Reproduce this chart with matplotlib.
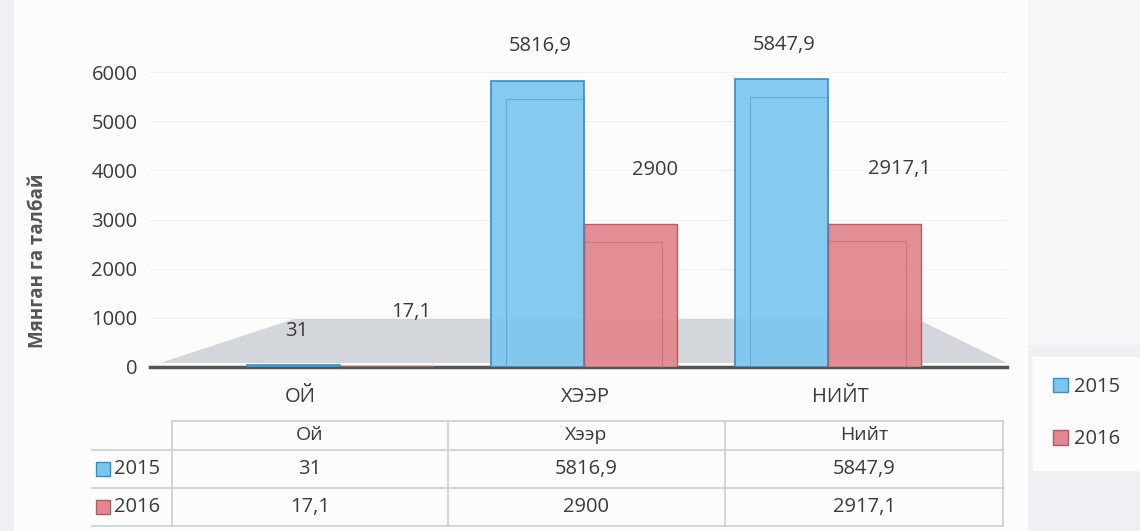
import matplotlib
matplotlib.use('Agg')
import matplotlib.pyplot as plt
from matplotlib.patches import Polygon, Rectangle, Patch
import numpy as np

# ---------------- data ----------------
categories = ['Ой', 'Хээр', 'Нийт']
axis_labels = ['ОЙ', 'ХЭЭР', 'НИЙТ']
series = ['2015', '2016']
values_2015 = [31, 5816.9, 5847.9]
values_2016 = [17.1, 2900, 2917.1]
y_ticks = [0, 1000, 2000, 3000, 4000, 5000, 6000]
y_label = 'Мянган га талбай'

# ---------------- style ----------------
W, H = 1140, 531
plt.rcParams['font.family'] = ['Open Sans', 'DejaVu Sans']
blue_fill, blue_edge = '#7cc6ee', '#2f8fcf'
red_fill, red_edge = '#e2878f', '#b35a62'
txt = '#3a3a3a'
grid_c = '#c9ced6'
FS = 14.5


def fx(x):
    return x / W


def fy(y):
    return 1 - y / H


def fmt(v):
    return f"{v:g}".replace('.', ',')


fig = plt.figure(figsize=(W / 100, H / 100), dpi=100, facecolor='#eef0f3')

# overlay (pixel coordinates) for background, floor, table
ov = fig.add_axes([0, 0, 1, 1], zorder=0)
ov.set_xlim(0, W)
ov.set_ylim(H, 0)
ov.axis('off')
ov.add_patch(Rectangle((14, 0), 1014, H, color='#fcfcfd', lw=0))
ov.add_patch(Rectangle((1028, 0), 112, 345, color='#f5f6f8', lw=0))
# floor of 3-D plot
ov.add_patch(Polygon([(160, 363), (297, 318), (915, 318), (1007, 363)],
                     closed=True, color='#d3d6da', lw=0))

# ---------------- main axes ----------------
ax = fig.add_axes([fx(150), fy(367), fx(1007) - fx(150), fy(72) - fy(367)], zorder=2)
ax.patch.set_alpha(0)
ax.set_ylim(0, 6000)
ax.set_xlim(-0.779, 2.734)
ax.set_yticks(y_ticks)
ax.set_yticklabels([str(t) for t in y_ticks], fontsize=FS, color=txt)
ax.set_xticks([])
ax.tick_params(axis='y', length=0, pad=9)
for s in ['top', 'right', 'left']:
    ax.spines[s].set_visible(False)
ax.spines['bottom'].set_color('#555555')
ax.spines['bottom'].set_linewidth(2.5)
ax.yaxis.grid(True, color='#f0f0f0', lw=0.8)
ax.set_axisbelow(True)

x = np.arange(len(categories))
w = 0.38
v15 = np.array(values_2015)
v16 = np.array(values_2016)
ax.bar(x - w / 2, v15, w, color=blue_fill, edgecolor=blue_edge, lw=1.3, alpha=0.92, zorder=3)
ax.bar(x + w / 2, v16, w, color=red_fill, edgecolor=red_edge, lw=1.0, alpha=0.95, zorder=3)
# inner back-face outlines (3-D look)
ax.bar(x - w / 2 + w * 0.08, np.maximum(v15 - 360, 0), w * 0.84, fill=False,
       edgecolor=blue_edge, lw=0.8, alpha=0.45, zorder=4)
ax.bar(x + w / 2 - w * 0.08, np.maximum(v16 - 360, 0), w * 0.84, fill=False,
       edgecolor=red_edge, lw=0.8, alpha=0.45, zorder=4)

for xi, v in zip(x, v15):
    ax.annotate(fmt(v), (xi - w / 2, v), xytext=(2, 25), textcoords='offset points',
                ha='center', va='center', fontsize=FS, color=txt)
for xi, v in zip(x, v16):
    ax.annotate(fmt(v), (xi + w / 2, v), xytext=(18, 39), textcoords='offset points',
                ha='center', va='center', fontsize=FS, color=txt)

fig.text(fx(38), fy(261), y_label, rotation=90, ha='center', va='center',
         fontsize=13.5, fontweight='bold', color='#555555')

# ---------------- category labels & data table ----------------
cat_px = [300, 585, 840]
for lab, cx in zip(axis_labels, cat_px):
    ov.text(cx, 397, lab, ha='center', va='center', fontsize=FS, color=txt)

col_edges = [172, 448, 725, 1003]
row_edges = [421, 450, 488, 526]
col_centers = [(a + b) / 2 for a, b in zip(col_edges[:-1], col_edges[1:])]
row_centers = [(a + b) / 2 for a, b in zip(row_edges[:-1], row_edges[1:])]

ov.plot([col_edges[0], col_edges[-1]], [row_edges[0]] * 2, color=grid_c, lw=1.2)
for ry in row_edges[1:]:
    ov.plot([92, col_edges[-1]], [ry, ry], color=grid_c, lw=1.2)
for cx in col_edges:
    ov.plot([cx, cx], [row_edges[0], row_edges[-1]], color=grid_c, lw=1.2)

for cat, cx in zip(categories, col_centers):
    ov.text(cx, row_centers[0], cat, ha='center', va='center', fontsize=FS - 0.5, color=txt)

for ri, (name, vals, fc, ec) in enumerate([(series[0], values_2015, blue_fill, blue_edge),
                                           (series[1], values_2016, red_fill, red_edge)]):
    ry = row_centers[ri + 1]
    ov.add_patch(Rectangle((96, ry - 7), 14, 14, facecolor=fc, edgecolor=ec, lw=1))
    ov.text(114, ry, name, ha='left', va='center', fontsize=FS, color=txt)
    for v, cx in zip(vals, col_centers):
        ov.text(cx, ry, fmt(v), ha='center', va='center', fontsize=FS, color=txt)

# ---------------- legend ----------------
handles = [Patch(facecolor=blue_fill, edgecolor=blue_edge),
           Patch(facecolor=red_fill, edgecolor=red_edge)]
leg = fig.legend(handles, series, loc='upper left', bbox_to_anchor=(fx(1033), fy(357)),
                 frameon=True, fancybox=False, facecolor='white', edgecolor='white',
                 fontsize=FS, labelspacing=1.6, handlelength=0.75, handleheight=0.75,
                 handletextpad=0.3, borderpad=1.0, borderaxespad=0)
for t in leg.get_texts():
    t.set_color(txt)

fig.savefig('out.png', dpi=100, facecolor=fig.get_facecolor())
